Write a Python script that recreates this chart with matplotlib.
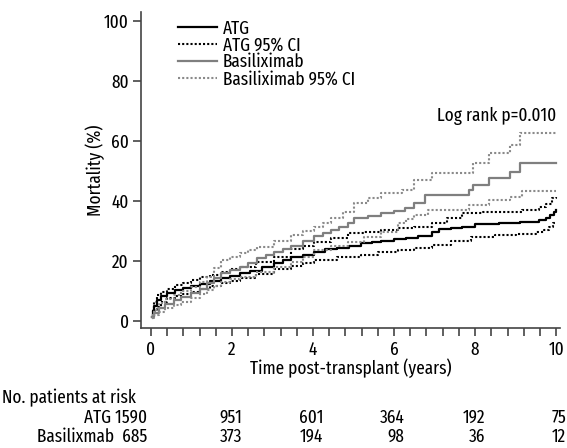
# Kaplan-Meier mortality: ATG vs Basiliximab
import matplotlib
matplotlib.use('Agg')
import matplotlib.pyplot as plt

plt.rcParams['font.family'] = ['Fira Sans Extra Condensed', 'Fira Sans Condensed', 'DejaVu Sans']
plt.rcParams['font.size'] = 13.5

# ATG (years, %)
atg_t = [0.02, 0.05, 0.08, 0.15, 0.25, 0.4, 0.6, 0.8, 0.98, 1.2, 1.45, 1.72, 1.95, 2.2, 2.45,
         2.75, 3.04, 3.25, 3.46, 3.75, 4.03, 4.3, 4.6, 4.9, 5.19, 5.45, 5.69, 6.0, 6.3, 6.6,
         6.93, 7.1, 7.4, 7.67, 8.0, 8.6, 9.1, 9.58, 9.75, 9.86, 9.95, 10.0]
atg_y = [1.4, 3.5, 5.0, 7.0, 8.2, 9.4, 10.2, 10.9, 11.6, 12.4, 13.3, 14.3, 15.1, 15.9, 16.8,
         18.0, 19.2, 20.2, 21.2, 22.1, 23.1, 24.0, 24.5, 25.0, 25.9, 26.3, 26.6, 27.2, 27.8, 28.3,
         29.8, 30.6, 31.0, 31.4, 32.5, 32.7, 33.0, 33.7, 34.4, 35.3, 36.4, 37.0]
atg_hi_t = [0.02, 0.05, 0.08, 0.15, 0.25, 0.4, 0.6, 0.8, 0.98, 1.2, 1.45, 1.72, 1.95, 2.2, 2.6,
            3.04, 3.46, 3.75, 4.03, 4.45, 4.86, 5.25, 5.69, 6.1, 6.5, 6.93, 7.3, 7.67, 8.2, 8.7,
            9.16, 9.58, 9.75, 9.9, 10.0]
atg_hi_y = [2.0, 4.5, 6.5, 8.7, 9.8, 10.8, 11.9, 12.8, 13.7, 14.6, 15.5, 16.4, 17.3, 18.1, 19.7,
            21.4, 23.9, 25.0, 26.4, 27.8, 29.2, 29.8, 30.3, 30.9, 31.4, 32.6, 34.5, 35.9, 36.2, 36.5,
            37.0, 38.1, 39.0, 40.9, 41.3]
atg_lo_t = [0.02, 0.05, 0.08, 0.15, 0.25, 0.4, 0.6, 0.8, 0.98, 1.2, 1.45, 1.72, 1.95, 2.2, 2.6,
            3.04, 3.46, 3.75, 4.03, 4.6, 5.19, 5.6, 6.1, 6.5, 6.93, 7.4, 7.9, 8.5, 9.0, 9.5,
            9.7, 9.83, 9.93, 10.0]
atg_lo_y = [1.0, 2.2, 3.3, 4.8, 6.3, 7.6, 8.4, 9.1, 9.8, 10.6, 11.6, 12.6, 13.4, 14.2, 15.6,
            17.2, 18.4, 19.3, 20.3, 21.2, 22.0, 22.9, 23.7, 24.5, 25.3, 26.6, 28.0, 28.6, 29.0, 29.6,
            30.4, 31.4, 32.6, 33.0]

# Basiliximab (years, %)
bas_t = [0.03, 0.08, 0.2, 0.35, 0.56, 0.75, 0.98, 1.2, 1.39, 1.55, 1.72, 1.95, 2.2, 2.4, 2.63,
         2.85, 3.04, 3.25, 3.46, 3.75, 4.03, 4.25, 4.45, 4.65, 4.86, 5.02, 5.35, 5.69, 6.0, 6.27,
         6.5, 6.77, 7.84, 7.95, 8.34, 8.87, 9.12, 10.0]
bas_y = [1.4, 2.8, 4.2, 5.6, 7.0, 8.1, 9.2, 10.8, 12.6, 14.3, 15.9, 17.0, 18.1, 19.5, 20.9,
         22.0, 23.1, 24.1, 25.0, 26.6, 28.2, 29.2, 30.3, 31.4, 32.6, 34.2, 35.0, 35.9, 36.8, 37.6,
         39.2, 42.0, 43.7, 45.3, 47.6, 49.8, 52.6, 52.6]
bas_hi_t = [0.03, 0.08, 0.2, 0.35, 0.56, 0.75, 0.98, 1.2, 1.39, 1.55, 1.72, 1.95, 2.2, 2.4, 2.63,
            3.04, 3.46, 3.75, 4.03, 4.25, 4.45, 4.75, 5.02, 5.35, 5.69, 6.2, 6.5, 6.93, 7.95,
            8.34, 8.87, 9.12, 10.0]
bas_hi_y = [2.0, 3.6, 5.9, 7.3, 8.7, 10.0, 11.4, 13.1, 14.8, 17.6, 20.3, 21.5, 22.6, 23.7, 24.8,
            26.8, 28.7, 30.0, 31.4, 32.8, 34.2, 36.5, 39.2, 40.9, 42.6, 43.7, 47.0, 49.2, 52.6,
            55.9, 58.7, 62.6, 62.6]
bas_lo_t = [0.03, 0.08, 0.2, 0.35, 0.56, 0.75, 0.98, 1.2, 1.39, 1.55, 1.72, 1.95, 2.2, 2.6,
            3.04, 3.46, 3.75, 4.03, 4.45, 4.86, 5.25, 5.69, 6.1, 6.3, 6.5, 6.85, 7.84, 8.34,
            8.87, 9.16, 10.0]
bas_lo_y = [1.0, 2.0, 3.1, 4.2, 5.3, 6.5, 7.6, 8.9, 10.3, 11.8, 13.1, 14.0, 14.8, 16.4,
            18.1, 19.6, 21.5, 23.7, 25.0, 26.4, 28.0, 29.8, 32.6, 34.0, 35.3, 37.0, 38.7, 40.3,
            41.4, 43.3, 43.3]

# number at risk
risk_times = [0, 2, 4, 6, 8, 10]
risk_atg = [1590, 951, 601, 364, 192, 75]
risk_bas = [685, 373, 194, 98, 36, 12]

fig = plt.figure(figsize=(5.67, 4.48), dpi=100)
ax = fig.add_axes([0.249, 0.268, 0.739, 0.705])

dot = (0, (1, 1))
ax.plot(atg_t, atg_y, drawstyle='steps-post', color='black', lw=1.6, label='ATG')
ax.plot(atg_hi_t, atg_hi_y, drawstyle='steps-post', color='black', lw=1.5, ls=dot,
        label='ATG 95% CI')
ax.plot(atg_lo_t, atg_lo_y, drawstyle='steps-post', color='black', lw=1.5, ls=dot)
ax.plot(bas_t, bas_y, drawstyle='steps-post', color='#7f7f7f', lw=1.6, label='Basiliximab')
ax.plot(bas_hi_t, bas_hi_y, drawstyle='steps-post', color='#8a8a8a', lw=1.5, ls=dot,
        label='Basiliximab 95% CI')
ax.plot(bas_lo_t, bas_lo_y, drawstyle='steps-post', color='#8a8a8a', lw=1.5, ls=dot)

ax.set_xlim(-0.24, 10.1)
ax.set_ylim(-2.3, 103)
ax.set_xticks([0, 2, 4, 6, 8, 10])
ax.set_xticks([i * 0.4 for i in range(26)], minor=True)
ax.set_yticks([0, 20, 40, 60, 80, 100])
for s in ['top', 'right']:
    ax.spines[s].set_visible(False)
for s in ['left', 'bottom']:
    ax.spines[s].set_color('#444444')
    ax.spines[s].set_linewidth(1.2)
ax.tick_params(which='both', direction='out', color='#444444', width=1.2)
ax.tick_params(which='major', length=6, pad=3)
ax.tick_params(which='minor', length=6)

ax.set_xlabel('Time post-transplant (years)', labelpad=0)
ax.set_ylabel('Mortality (%)', labelpad=-1)

ax.text(10.0, 68.5, 'Log rank p=0.010', ha='right', va='center')

ax.legend(loc='upper left', bbox_to_anchor=(0.07, 1.0), frameon=False,
          handlelength=2.1, handletextpad=0.3, labelspacing=-0.05, borderaxespad=0)

# at-risk table
ax.text(0.0035, 0.112, 'No. patients at risk', transform=fig.transFigure,
        ha='left', va='center')
ax.text(-0.1, -32.3, 'ATG %d' % risk_atg[0], ha='right', va='center', clip_on=False)
ax.text(-0.1, -38.7, 'Basilixmab  %d' % risk_bas[0], ha='right', va='center', clip_on=False)
for t, a, b in zip(risk_times[1:], risk_atg[1:], risk_bas[1:]):
    ax.text(t + 0.25, -32.3, str(a), ha='right', va='center', clip_on=False)
    ax.text(t + 0.25, -38.7, str(b), ha='right', va='center', clip_on=False)

fig.savefig('out.png', dpi=100)
